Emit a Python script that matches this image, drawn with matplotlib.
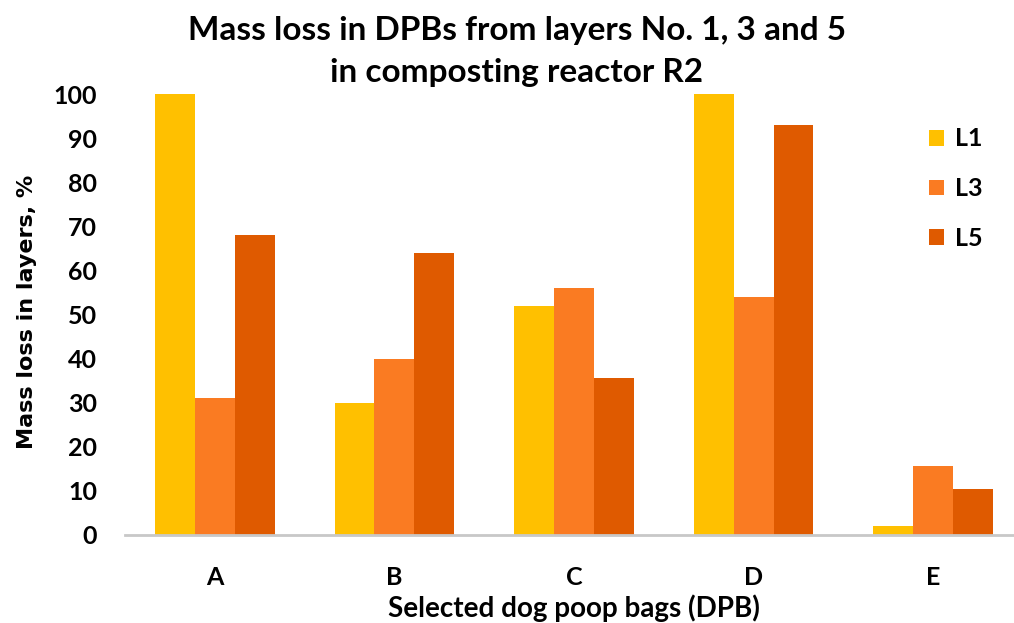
import matplotlib
matplotlib.use("Agg")
import matplotlib.pyplot as plt
import numpy as np

categories = ["A", "B", "C", "D", "E"]
series_names = ["L1", "L3", "L5"]
L1 = [100, 30, 52, 100, 2]
L3 = [31, 40, 56, 54, 15.6]
L5 = [68, 64, 35.5, 93, 10.4]
colors = ["#FFC000", "#FA7B22", "#DF5A00"]

W, H = 1014, 623
fig = plt.figure(figsize=(W/100, H/100), dpi=100)
ax = fig.add_axes([125/W, 1-535/H, (1023-125)/W, (535-94)/H])

x = np.arange(len(categories))
w = 0.222
for i, (vals, name, c) in enumerate(zip([L1, L3, L5], series_names, colors)):
    ax.bar(x + (i-1)*w, vals, width=w, color=c, label=name, zorder=2)

ax.set_xlim(-0.5, 4.5)
ax.set_ylim(0, 100)
ax.set_yticks(range(0, 101, 10))
ax.set_xticks(x)
ax.set_xticklabels(categories)
for s in ["top", "right", "left"]:
    ax.spines[s].set_visible(False)
ax.spines["bottom"].set_color("#C8C8C8")
ax.spines["bottom"].set_linewidth(2)
ax.tick_params(axis="both", length=0)
ax.tick_params(axis="y", pad=20)
ax.tick_params(axis="x", pad=22)
for lab in ax.get_xticklabels() + ax.get_yticklabels():
    lab.set_fontfamily("Lato")
    lab.set_fontweight("bold")
    lab.set_fontsize(18)

fig.text(27/W, 1-312/H, "Mass loss in layers, %", rotation=90, ha="center", va="center",
         fontfamily="DejaVu Sans", fontweight="bold", fontsize=16)
fig.text(574/W, 1-617/H, "Selected dog poop bags (DPB)", ha="center", va="baseline",
         fontfamily="Lato", fontweight="bold", fontsize=20)

fig.text(517/W, 1-40/H, "Mass loss in DPBs from layers No. 1, 3 and 5",
         ha="center", va="baseline", fontfamily="Lato", fontweight="bold", fontsize=24)
fig.text(517/W, 1-82/H, "in composting reactor R2",
         ha="center", va="baseline", fontfamily="Lato", fontweight="bold", fontsize=24)

leg = ax.legend(loc="upper left", bbox_to_anchor=(906/W, 1-105/H), bbox_transform=fig.transFigure,
                frameon=False, handlelength=0.6, handleheight=0.6, handletextpad=0.45, labelspacing=1.07,
                prop={"family": "Lato", "weight": "bold", "size": 18})

fig.savefig("out.png", dpi=100)
